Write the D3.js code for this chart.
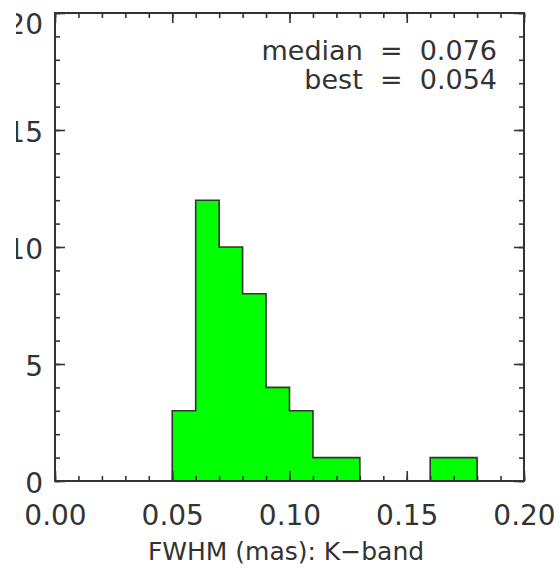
<html>
<head>
	<meta charset="utf-8">
	<title>FWHM K-band</title>
</head>
<style>
	body { margin: 0; background: #fff; }
	.axis path { display: none; }
	.axis line { stroke: #333; stroke-width: 1.6; }
	.axis text { font-family: "DejaVu Sans", sans-serif; font-size: 28px; fill: #333; }
</style>
<body>
	<script src="https://cdn.jsdelivr.net/npm/d3@7"></script>
	<script>
	// histogram bins (lower edges) and counts
	var binLo = [0.05, 0.06, 0.07, 0.08, 0.09, 0.10, 0.11, 0.12, 0.13, 0.14, 0.15, 0.16, 0.17];
	var binW = 0.01;
	var counts = [3, 12, 10, 8, 4, 3, 1, 1, 0, 0, 0, 1, 1];
	var xTicks = [0.00, 0.05, 0.10, 0.15, 0.20];
	var yTicks = [0, 5, 10, 15, 20];
	var stats = [{name: "median", v: "0.076"}, {name: "best", v: "0.054"}];

	var width = 559, height = 568;
	var box = {left: 55, top: 13, right: 524, bottom: 481};

	var svg = d3.select("body").append("svg")
		.attr("width", width)
		.attr("height", height);

	var x = d3.scaleLinear().domain([0, 0.2]).range([box.left, box.right]);
	var y = d3.scaleLinear().domain([0, 20]).range([box.bottom, box.top]);

	var bins = binLo.map(function(b, i){ return {x0: b, x1: b + binW, n: counts[i]}; });

	// step outline, filled
	var pts = [[binLo[0], 0]];
	bins.forEach(function(d){ pts.push([d.x0, d.n]); pts.push([d.x1, d.n]); });
	pts.push([bins[bins.length - 1].x1, 0]);
	svg.append("path")
		.attr("d", d3.line().x(function(p){ return x(p[0]); }).y(function(p){ return y(p[1]); })(pts))
		.attr("fill", "#00ff00")
		.attr("stroke", "#333")
		.attr("stroke-width", 1.6);

	var xMinor = d3.range(0, 21).map(function(i){ return i / 100; });
	var yMinor = d3.range(0, 21);

	// bottom axis
	svg.append("g").attr("class", "axis")
		.attr("transform", "translate(0," + box.bottom + ")")
		.call(d3.axisBottom(x).tickValues(xMinor).tickSize(-5).tickFormat(""));
	svg.append("g").attr("class", "axis")
		.attr("transform", "translate(0," + box.bottom + ")")
		.call(d3.axisBottom(x).tickValues(xTicks).tickSize(-10).tickPadding(24).tickFormat(d3.format(".2f")));
	// top axis
	svg.append("g").attr("class", "axis")
		.attr("transform", "translate(0," + box.top + ")")
		.call(d3.axisTop(x).tickValues(xMinor).tickSize(-5).tickFormat(""));
	svg.append("g").attr("class", "axis")
		.attr("transform", "translate(0," + box.top + ")")
		.call(d3.axisTop(x).tickValues(xTicks).tickSize(-10).tickFormat(""));

	// left axis (labels clipped at left like the original)
	svg.append("clipPath").attr("id", "lclip")
		.append("rect").attr("x", 16 - box.left).attr("y", 0).attr("width", width).attr("height", height);
	svg.append("g").attr("class", "axis")
		.attr("transform", "translate(" + box.left + ",0)")
		.call(d3.axisLeft(y).tickValues(yMinor).tickSize(-5).tickFormat(""));
	var yl = svg.append("g").attr("class", "axis")
		.attr("transform", "translate(" + box.left + ",0)")
		.attr("clip-path", "url(#lclip)")
		.call(d3.axisLeft(y).tickValues(yTicks).tickSize(-10).tickPadding(12).tickFormat(d3.format("d")));
	yl.selectAll("text").attr("dy", function(d){ return d === 20 ? "0.72em" : "0.42em"; });
	// right axis
	svg.append("g").attr("class", "axis")
		.attr("transform", "translate(" + box.right + ",0)")
		.call(d3.axisRight(y).tickValues(yMinor).tickSize(-5).tickFormat(""));
	svg.append("g").attr("class", "axis")
		.attr("transform", "translate(" + box.right + ",0)")
		.call(d3.axisRight(y).tickValues(yTicks).tickSize(-10).tickFormat(""));

	// frame
	svg.append("rect")
		.attr("x", box.left).attr("y", box.top)
		.attr("width", box.right - box.left).attr("height", box.bottom - box.top)
		.attr("fill", "none").attr("stroke", "#333").attr("stroke-width", 2);

	// stats text
	svg.selectAll(".stat")
		.data(stats)
		.enter().append("text")
		.attr("class", "stat")
		.attr("x", 497)
		.attr("y", function(d, i){ return 60 + i * 29; })
		.attr("text-anchor", "end")
		.attr("font-family", "DejaVu Sans, sans-serif")
		.attr("font-size", 27)
		.attr("fill", "#333")
		.style("white-space", "pre")
		.text(function(d){ return d.name + "  =  " + d.v; });

	// x title
	svg.append("text")
		.attr("x", 286)
		.attr("y", 560)
		.attr("text-anchor", "middle")
		.attr("font-family", "DejaVu Sans, sans-serif")
		.attr("font-size", 25)
		.attr("fill", "#333")
		.text("FWHM (mas): K\u2212band");
	</script>
</body>
</html>
